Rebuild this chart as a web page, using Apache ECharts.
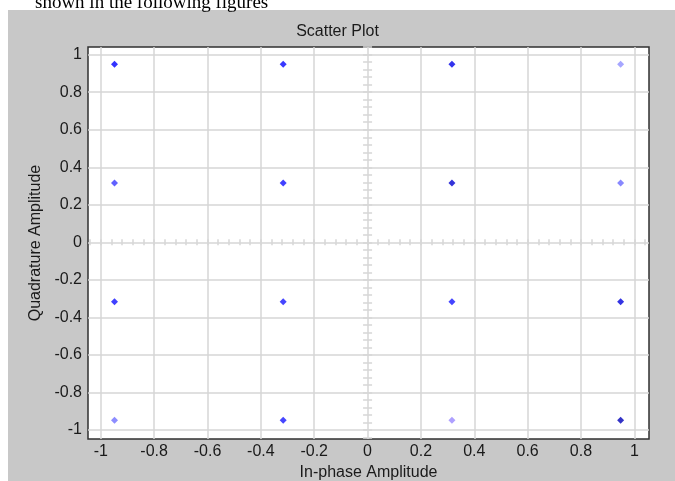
<!DOCTYPE html>
<html>
<head>
<meta charset="utf-8">
<script src="https://cdn.jsdelivr.net/npm/echarts@6/dist/echarts.min.js"></script>
<style>
html,body{margin:0;padding:0;background:#fff;}
#main{width:675px;height:481px;}
</style>
</head>
<body>
<div id="main"></div>
<script>
// ---- data ----
const titleText = 'Scatter Plot';
const xName = 'In-phase Amplitude';
const yName = 'Quadrature Amplitude';
const captionText = 'shown in the following figures';
const xTicks = [-1, -0.8, -0.6, -0.4, -0.2, 0, 0.2, 0.4, 0.6, 0.8, 1];
const yTicks = [-1, -0.8, -0.6, -0.4, -0.2, 0, 0.2, 0.4, 0.6, 0.8, 1];
// constellation points [I, Q]
const pointsI = [-0.9487, -0.3162, 0.3162, 0.9487, -0.9487, -0.3162, 0.3162, 0.9487, -0.9487, -0.3162, 0.3162, 0.9487, -0.9487, -0.3162, 0.3162, 0.9487];
const pointsQ = [0.9487, 0.9487, 0.9487, 0.9487, 0.3162, 0.3162, 0.3162, 0.3162, -0.3162, -0.3162, -0.3162, -0.3162, -0.9487, -0.9487, -0.9487, -0.9487];
const pointColors = ['#0000ff', '#0808ff', '#0000e8', '#9090ff', '#3a3aff', '#1010ff', '#0000d0', '#6a6aff', '#1010ff', '#1818ff', '#1515ff', '#0000dc', '#7070ff', '#1818ff', '#9a88ff', '#0000b8'];

// ---- chart ----
const xMin = -1.048, xMax = 1.055, yMin = -1.048, yMax = 1.041;
function minorOf(ticks, lo, hi) {
  const out = [];
  const step = (ticks[1] - ticks[0]) / 5;
  for (let v = ticks[0] - step; v >= lo; v -= step) out.push(+v.toFixed(4));
  for (let i = 0; i < ticks.length - 1; i++) {
    for (let k = 0; k < 5; k++) out.push(+(ticks[i] + k * step).toFixed(4));
  }
  for (let v = ticks[ticks.length - 1]; v <= hi; v += step) out.push(+v.toFixed(4));
  return out;
}
const xMinor = minorOf(xTicks, xMin, xMax);
const yMinor = minorOf(yTicks, yMin, yMax);

const gridCol = '#d6d6d6';
const txtCol = '#1a1a1a';
const font = 'Liberation Sans, Arial, sans-serif';

function crossX(inside) {
  return {
    type: 'value', gridIndex: 0, min: xMin, max: xMax,
    axisLine: {show: false, onZero: true, onZeroAxisIndex: 0},
    axisTick: {show: true, inside: inside, length: 3, customValues: xMinor, lineStyle: {color: gridCol, width: 1.5}},
    axisLabel: {show: false}, splitLine: {show: false}
  };
}
function crossY(inside) {
  return {
    type: 'value', gridIndex: 0, min: yMin, max: yMax,
    axisLine: {show: false, onZero: true, onZeroAxisIndex: 0},
    axisTick: {show: true, inside: inside, length: 4.5, customValues: yMinor, lineStyle: {color: gridCol, width: 1.5}},
    axisLabel: {show: false}, splitLine: {show: false}
  };
}

const chart = echarts.init(document.getElementById('main'), null, {renderer: 'canvas'});
chart.setOption({
  animation: false,
  backgroundColor: '#ffffff',
  graphic: [
    {type: 'rect', left: 8, top: 10, shape: {width: 667, height: 471}, style: {fill: '#c8c8c8'}, z: -10},
    {type: 'text', left: 35, top: -6, style: {text: captionText, font: '19px "Liberation Serif", "Times New Roman", serif', fill: '#000'}, z: -5}
  ],
  title: {
    text: titleText, left: 'center', top: 19,
    textStyle: {fontFamily: font, fontWeight: 'normal', fontSize: 16, color: txtCol}
  },
  grid: {
    left: 88, right: 26, top: 47, bottom: 42,
    outerBoundsMode: 'none', containLabel: false,
    show: true, backgroundColor: '#ffffff', borderColor: '#303030', borderWidth: 1.5
  },
  xAxis: [{
    type: 'value', min: xMin, max: xMax,
    name: xName, nameLocation: 'middle', nameGap: 22,
    nameTextStyle: {fontFamily: font, fontSize: 16, color: txtCol},
    axisLine: {show: false, onZero: false},
    axisTick: {show: false, customValues: xTicks},
    axisLabel: {customValues: xTicks, margin: 5, fontFamily: font, fontSize: 16, color: txtCol},
    splitLine: {show: true, lineStyle: {color: gridCol, width: 1.5}}
  }, crossX(true), crossX(false)],
  yAxis: [{
    type: 'value', min: yMin, max: yMax,
    name: yName, nameLocation: 'middle', nameGap: 44, nameRotate: 90,
    nameTextStyle: {fontFamily: font, fontSize: 16, color: txtCol},
    axisLine: {show: false, onZero: false},
    axisTick: {show: false, customValues: yTicks},
    axisLabel: {customValues: yTicks, margin: 6, fontFamily: font, fontSize: 16, color: txtCol},
    splitLine: {show: true, lineStyle: {color: gridCol, width: 1.5}}
  }, crossY(true), crossY(false)],
  series: [{
    type: 'scatter',
    xAxisIndex: 0, yAxisIndex: 0,
    symbol: 'diamond', symbolSize: 7,
    data: pointsI.map((x, i) => ({value: [x, pointsQ[i]], itemStyle: {color: pointColors[i]}})),
    z: 10
  }]
});
</script>
</body>
</html>
